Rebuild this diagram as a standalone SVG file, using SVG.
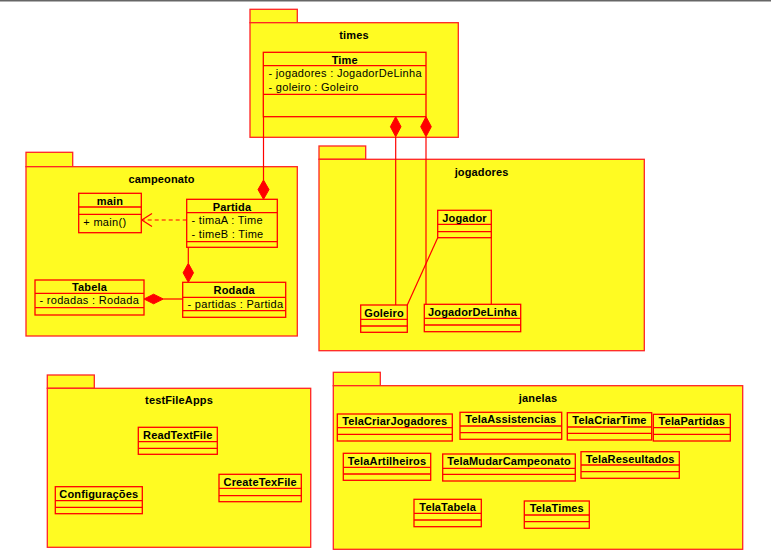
<svg xmlns="http://www.w3.org/2000/svg" width="771" height="556" viewBox="0 0 771 556">
<style>
.pkg{fill:#FFFB22;stroke:#FF2424;stroke-width:1.3}
.cls rect{fill:#FFFB22;stroke:#FF0000;stroke-width:1.3}
.cls line{stroke:#FF0000;stroke-width:1.3}
.ttl{font-family:"Liberation Sans",Arial,sans-serif;font-size:11px;font-weight:bold;letter-spacing:0.15px;text-anchor:middle;fill:#000}
.cn{font-family:"Liberation Sans",Arial,sans-serif;font-size:11px;font-weight:bold;letter-spacing:0.15px;text-anchor:middle;fill:#000}
.at{font-family:"Liberation Sans",Arial,sans-serif;font-size:11px;letter-spacing:0.3px;fill:#000}
.ln{stroke:#FF0000;stroke-width:1.2;fill:none}
.dia{fill:#FF0000;stroke:#FF0000;stroke-width:1}
</style>
<rect x="0" y="0" width="771" height="1.5" fill="#666"/>

<g id="pkg-times">
<rect class="pkg" x="250" y="9.3" width="47.3" height="13.4"/>
<rect class="pkg" x="250" y="22.7" width="208.3" height="114.6"/>
<text class="ttl" x="354" y="39">times</text>
</g>
<g id="pkg-campeonato">
<rect class="pkg" x="26" y="152.3" width="46.7" height="14.4"/>
<rect class="pkg" x="26" y="166.7" width="271.3" height="169.3"/>
<text class="ttl" x="161.6" y="182.5">campeonato</text>
</g>
<g id="pkg-jogadores">
<rect class="pkg" x="319" y="146" width="46.7" height="13.3"/>
<rect class="pkg" x="319" y="159.3" width="325.3" height="191.4"/>
<text class="ttl" x="481.6" y="175.5">jogadores</text>
</g>
<g id="pkg-testFileApps">
<rect class="pkg" x="47.3" y="375" width="47" height="13.3"/>
<rect class="pkg" x="47.3" y="388.3" width="263.4" height="159"/>
<text class="ttl" x="179" y="404.3">testFileApps</text>
</g>
<g id="pkg-janelas">
<rect class="pkg" x="333.3" y="372.3" width="47" height="13.4"/>
<rect class="pkg" x="333.3" y="385.7" width="409.4" height="163.6"/>
<text class="ttl" x="538" y="402.3">janelas</text>
</g>

<g id="connectors">
<line class="ln" x1="263.5" y1="116.7" x2="263.5" y2="180"/>
<path class="dia" d="M263.5,199.3 L269,189.6 L263.5,180 L258,189.6 Z"/>
<path class="dia" d="M395.7,116.7 L401,126.7 L395.7,136.7 L390.4,126.7 Z"/>
<line class="ln" x1="395.7" y1="136.7" x2="395.7" y2="305"/>
<path class="dia" d="M426,116.7 L431.3,126.7 L426,136.7 L420.7,126.7 Z"/>
<line class="ln" x1="426" y1="136.7" x2="426" y2="304.3"/>
<line class="ln" x1="437.7" y1="237.7" x2="407.3" y2="305"/>
<line class="ln" x1="491.3" y1="237.7" x2="491.3" y2="304.3"/>
<line class="ln" x1="188.3" y1="247.3" x2="188.3" y2="263.3"/>
<path class="dia" d="M188.3,263.3 L193.5,272.8 L188.3,282.3 L183.1,272.8 Z"/>
<line class="ln" x1="182.7" y1="299" x2="163.3" y2="299"/>
<path class="dia" d="M144,299 L153.6,294.2 L163.3,299 L153.6,303.8 Z"/>
<line class="ln" x1="186.7" y1="220" x2="142" y2="220" stroke-dasharray="4,3"/>
<path class="ln" d="M152,213.5 L141.8,220 L152,226.5"/>
</g>

<g id="Time" class="cls">
<rect x="263.3" y="52.3" width="162.7" height="64.4"/>
<line x1="263.3" y1="65.7" x2="426" y2="65.7"/>
<line x1="263.3" y1="94.3" x2="426" y2="94.3"/>
<text class="cn" x="344.7" y="63.5">Time</text>
<text class="at" x="268.5" y="76.5">- jogadores : JogadorDeLinha</text>
<text class="at" x="268.5" y="90.5">- goleiro : Goleiro</text>
</g>
<g id="main" class="cls">
<rect x="78.7" y="193.3" width="62.6" height="39.4"/>
<line x1="78.7" y1="207" x2="141.3" y2="207"/>
<line x1="78.7" y1="214.3" x2="141.3" y2="214.3"/>
<text class="cn" x="110" y="204.5">main</text>
<text class="at" x="83.3" y="225.5">+ main()</text>
</g>
<g id="Partida" class="cls">
<rect x="186.7" y="199.3" width="90.6" height="48"/>
<line x1="186.7" y1="212.7" x2="277.3" y2="212.7"/>
<line x1="186.7" y1="241.7" x2="277.3" y2="241.7"/>
<text class="cn" x="232" y="210.5">Partida</text>
<text class="at" x="191.5" y="224">- timaA : Time</text>
<text class="at" x="191.5" y="237.5">- timeB : Time</text>
</g>
<g id="Rodada" class="cls">
<rect x="182.7" y="282.3" width="103" height="35"/>
<line x1="182.7" y1="297.3" x2="285.7" y2="297.3"/>
<line x1="182.7" y1="310.7" x2="285.7" y2="310.7"/>
<text class="cn" x="234.2" y="294">Rodada</text>
<text class="at" x="187.5" y="307.5">- partidas : Partida</text>
</g>
<g id="Tabela" class="cls">
<rect x="35" y="280" width="109" height="35"/>
<line x1="35" y1="293.3" x2="144" y2="293.3"/>
<line x1="35" y1="307.7" x2="144" y2="307.7"/>
<text class="cn" x="89.5" y="291.3">Tabela</text>
<text class="at" x="39.5" y="304.3">- rodadas : Rodada</text>
</g>
<g id="Jogador" class="cls">
<rect x="437.7" y="210.3" width="53.6" height="27.4"/>
<line x1="437.7" y1="224.3" x2="491.3" y2="224.3"/>
<line x1="437.7" y1="231.7" x2="491.3" y2="231.7"/>
<text class="cn" x="464.5" y="221.7">Jogador</text>
</g>
<g id="Goleiro" class="cls">
<rect x="360.7" y="305" width="46.6" height="27.3"/>
<line x1="360.7" y1="319.3" x2="407.3" y2="319.3"/>
<line x1="360.7" y1="326" x2="407.3" y2="326"/>
<text class="cn" x="384" y="316.5">Goleiro</text>
</g>
<g id="JogadorDeLinha" class="cls">
<rect x="424.3" y="304.3" width="96.4" height="27.4"/>
<line x1="424.3" y1="318.3" x2="520.7" y2="318.3"/>
<line x1="424.3" y1="325" x2="520.7" y2="325"/>
<text class="cn" x="472.5" y="316">JogadorDeLinha</text>
</g>
<g id="ReadTextFile" class="cls">
<rect x="138.3" y="427.3" width="79" height="27"/>
<line x1="138.3" y1="441.7" x2="217.3" y2="441.7"/>
<line x1="138.3" y1="448.3" x2="217.3" y2="448.3"/>
<text class="cn" x="177.8" y="438.5">ReadTextFile</text>
</g>
<g id="CreateTexFile" class="cls">
<rect x="219" y="474.3" width="82.3" height="27.4"/>
<line x1="219" y1="488.3" x2="301.3" y2="488.3"/>
<line x1="219" y1="495.7" x2="301.3" y2="495.7"/>
<text class="cn" x="260.2" y="485.7">CreateTexFile</text>
</g>
<g id="Configuracoes" class="cls">
<rect x="55.3" y="486.7" width="87" height="27"/>
<line x1="55.3" y1="500.7" x2="142.3" y2="500.7"/>
<line x1="55.3" y1="507.3" x2="142.3" y2="507.3"/>
<text class="cn" x="98.8" y="497.8">Configurações</text>
</g>
<g id="TelaCriarJogadores" class="cls">
<rect x="337.3" y="414" width="115" height="27"/>
<line x1="337.3" y1="427.7" x2="452.3" y2="427.7"/>
<line x1="337.3" y1="434.3" x2="452.3" y2="434.3"/>
<text class="cn" x="394.8" y="425">TelaCriarJogadores</text>
</g>
<g id="TelaAssistencias" class="cls">
<rect x="460" y="412.3" width="101.7" height="27"/>
<line x1="460" y1="426" x2="561.7" y2="426"/>
<line x1="460" y1="432.7" x2="561.7" y2="432.7"/>
<text class="cn" x="510.8" y="423.3">TelaAssistencias</text>
</g>
<g id="TelaCriarTime" class="cls">
<rect x="567.3" y="412.7" width="84.4" height="27.3"/>
<line x1="567.3" y1="427" x2="651.7" y2="427"/>
<line x1="567.3" y1="433.3" x2="651.7" y2="433.3"/>
<text class="cn" x="609.5" y="423.7">TelaCriarTime</text>
</g>
<g id="TelaPartidas" class="cls">
<rect x="653.3" y="414.3" width="77" height="26.7"/>
<line x1="653.3" y1="427.7" x2="730.3" y2="427.7"/>
<line x1="653.3" y1="434.3" x2="730.3" y2="434.3"/>
<text class="cn" x="691.8" y="425.3">TelaPartidas</text>
</g>
<g id="TelaArtilheiros" class="cls">
<rect x="343.3" y="453.3" width="87.4" height="27"/>
<line x1="343.3" y1="467.3" x2="430.7" y2="467.3"/>
<line x1="343.3" y1="474" x2="430.7" y2="474"/>
<text class="cn" x="387" y="464.5">TelaArtilheiros</text>
</g>
<g id="TelaMudarCampeonato" class="cls">
<rect x="442.7" y="454" width="132.6" height="27"/>
<line x1="442.7" y1="468.3" x2="575.3" y2="468.3"/>
<line x1="442.7" y1="474.3" x2="575.3" y2="474.3"/>
<text class="cn" x="509" y="465.2">TelaMudarCampeonato</text>
</g>
<g id="TelaReseultados" class="cls">
<rect x="581" y="451.7" width="98.3" height="26.6"/>
<line x1="581" y1="465" x2="679.3" y2="465"/>
<line x1="581" y1="471.7" x2="679.3" y2="471.7"/>
<text class="cn" x="630.2" y="462.7">TelaReseultados</text>
</g>
<g id="TelaTabela" class="cls">
<rect x="414" y="499.3" width="67.3" height="27.4"/>
<line x1="414" y1="513.3" x2="481.3" y2="513.3"/>
<line x1="414" y1="520" x2="481.3" y2="520"/>
<text class="cn" x="447.7" y="510.5">TelaTabela</text>
</g>
<g id="TelaTimes" class="cls">
<rect x="524.3" y="501" width="65" height="27.3"/>
<line x1="524.3" y1="515" x2="589.3" y2="515"/>
<line x1="524.3" y1="521.7" x2="589.3" y2="521.7"/>
<text class="cn" x="556.8" y="512.2">TelaTimes</text>
</g>
</svg>
